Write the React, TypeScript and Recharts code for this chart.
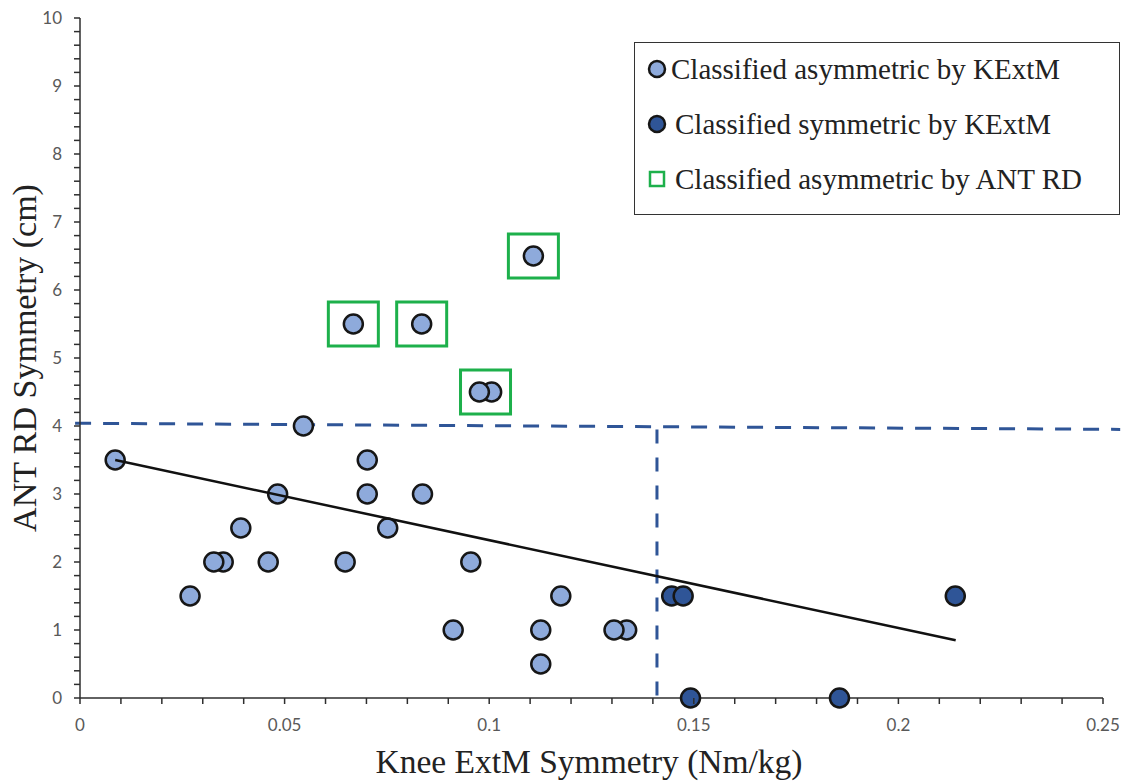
import { ScatterChart, Scatter, XAxis, YAxis, ReferenceLine } from 'recharts'

// light blue: classified asymmetric by KExtM
const asymX = [0.0086, 0.0546, 0.0269, 0.035, 0.0327, 0.0393, 0.046, 0.0483, 0.0648, 0.0702, 0.0702, 0.0752, 0.0837, 0.0912, 0.0955, 0.1175, 0.1126, 0.1126, 0.1336, 0.1305, 0.0668, 0.0835, 0.1108, 0.1006, 0.0976]
const asymY = [3.5, 4, 1.5, 2, 2, 2.5, 2, 3, 2, 3.5, 3, 2.5, 3, 1, 2, 1.5, 1, 0.5, 1, 1, 5.5, 5.5, 6.5, 4.5, 4.5]

// dark blue: classified symmetric by KExtM
const symX = [0.1446, 0.1474, 0.1492, 0.1856, 0.2139]
const symY = [1.5, 1.5, 0, 0, 1.5]

// green squares: classified asymmetric by ANT RD
const boxX = [0.0668, 0.0835, 0.1108, 0.0991]
const boxY = [5.5, 5.5, 6.5, 4.5]

// regression line end points
const trendX = [0.0086, 0.214]
const trendY = [3.5, 0.85]

// cut-off lines
const cutY = 4
const cutX = 0.141

const xMajor = [0, 0.05, 0.1, 0.15, 0.2, 0.25]
const yMajor = [0, 1, 2, 3, 4, 5, 6, 7, 8, 9, 10]

const legendLabels = [
  'Classified asymmetric by KExtM',
  'Classified symmetric by KExtM',
  'Classified asymmetric by ANT RD',
]

const LIGHT = '#8eaadb'
const DARK = '#2f5597'
const GREEN = '#1db04b'
const EDGE = '#161616'
const AXIS = '#2e2e2e'
const SERIF = "'Liberation Serif', serif"

const xMinor: number[] = []
for (let i = 0; i <= 25; i++) xMinor.push(+(i * 0.01).toFixed(2))
const yMinor: number[] = []
for (let i = 0; i <= 50; i++) yMinor.push(+(i * 0.2).toFixed(1))

const zip = (xs: number[], ys: number[]) => xs.map((x, i) => ({ x, y: ys[i] }))

const isMajor = (list: number[], v: number) => list.some(m => Math.abs(m - v) < 1e-6)

// tick marks drawn here (axis sits tickSize+tickMargin = 10px away from x/y)
const XTick = ({ x, y, payload }: any) => (
  <g>
    <line x1={x} x2={x} y1={y - 10} y2={y - 4} stroke={AXIS} strokeWidth={1.5} />
    {isMajor(xMajor, payload.value) && (
      <text x={x} y={731} textAnchor="middle" fontFamily="Lato" fontSize={17} fill="#595959">
        {String(payload.value)}
      </text>
    )}
  </g>
)

const YTick = ({ x, y, payload }: any) => (
  <g>
    <line x1={x + 4} x2={x + 10} y1={y} y2={y} stroke={AXIS} strokeWidth={1.5} />
    {isMajor(yMajor, payload.value) && (
      <text x={62} y={y + 6} textAnchor="end" fontFamily="Lato" fontSize={17} fill="#595959">
        {String(payload.value)}
      </text>
    )}
  </g>
)

const Dot = (fill: string) => (p: any) =>
  <circle cx={p.cx} cy={p.cy} r={9.5} fill={fill} stroke={EDGE} strokeWidth={2.5} />

const Box = (p: any) =>
  <rect x={p.cx - 25} y={p.cy - 22} width={50} height={44} fill="none" stroke={GREEN} strokeWidth={3} />

const NoShape = () => <g />

function LegendBox() {
  const marks = [
    <circle cx={22} cy={0} r={8} fill={LIGHT} stroke={EDGE} strokeWidth={2.5} />,
    <circle cx={22} cy={0} r={8} fill={DARK} stroke={EDGE} strokeWidth={2.5} />,
    <rect x={15} y={-7} width={14} height={14} fill="none" stroke={GREEN} strokeWidth={2.5} />,
  ]
  return (
    <div style={{ position: 'absolute', left: 634, top: 42, width: 484, height: 171, border: '1.5px solid #333', background: '#fff', fontFamily: SERIF, fontSize: 29, color: '#222' }}>
      {legendLabels.map((t, i) => (
        <div key={t} style={{ position: 'absolute', left: 0, top: 11 + i * 55, height: 30, display: 'flex', alignItems: 'center', whiteSpace: 'nowrap' }}>
          <svg width={36} height={30} style={{ overflow: 'visible' }}><g transform="translate(0,15)">{marks[i]}</g></svg>
          <span style={{ marginLeft: i === 0 ? 0 : 4 }}>{t}</span>
        </div>
      ))}
    </div>
  )
}

export default function App() {
  return (
    <div style={{ position: 'absolute', left: 0, top: 0, width: 1128, height: 782, background: '#fff' }}>
      <ScatterChart width={1128} height={782} margin={{ top: 18, right: 25, bottom: 0, left: 0 }}>
        <XAxis type="number" dataKey="x" domain={[0, 0.25]} ticks={xMinor} interval={0}
          axisLine={{ stroke: AXIS, strokeWidth: 1.5 }} tickLine={false} tickSize={6} tickMargin={4}
          tick={<XTick />} height={84}
          label={{ content: () => (
            <text x={589} y={773} textAnchor="middle" fontFamily={SERIF} fontSize={33.5} fill="#222">
              Knee ExtM Symmetry (Nm/kg)
            </text>
          ) }} />
        <YAxis type="number" dataKey="y" domain={[0, 10]} ticks={yMinor} interval={0}
          axisLine={{ stroke: AXIS, strokeWidth: 1.5 }} tickLine={false} tickSize={6} tickMargin={4}
          tick={<YTick />} width={80}
          label={{ content: () => (
            <text x={36} y={358} transform="rotate(-90 36 358)" textAnchor="middle" fontFamily={SERIF} fontSize={34} fill="#222">
              ANT RD Symmetry (cm)
            </text>
          ) }} />
        <ReferenceLine segment={[{ x: -0.0012, y: cutY + 0.04 }, { x: 0.2542, y: cutY - 0.05 }]} ifOverflow="visible"
          stroke={DARK} strokeWidth={3} strokeDasharray="16 12" />
        <ReferenceLine segment={[{ x: cutX, y: cutY - 0.05 }, { x: cutX, y: 0 }]} ifOverflow="visible"
          stroke={DARK} strokeWidth={3} strokeDasharray="14 14" />
        <Scatter name="boxes" data={zip(boxX, boxY)} shape={Box} isAnimationActive={false} />
        <Scatter name={legendLabels[0]} data={zip(asymX, asymY)} shape={Dot(LIGHT)} isAnimationActive={false} />
        <Scatter name={legendLabels[1]} data={zip(symX, symY)} shape={Dot(DARK)} isAnimationActive={false} />
        <Scatter name="trend" data={zip(trendX, trendY)} shape={NoShape} line={{ stroke: '#111', strokeWidth: 2.5 }}
          isAnimationActive={false} />
      </ScatterChart>
      <LegendBox />
    </div>
  )
}
